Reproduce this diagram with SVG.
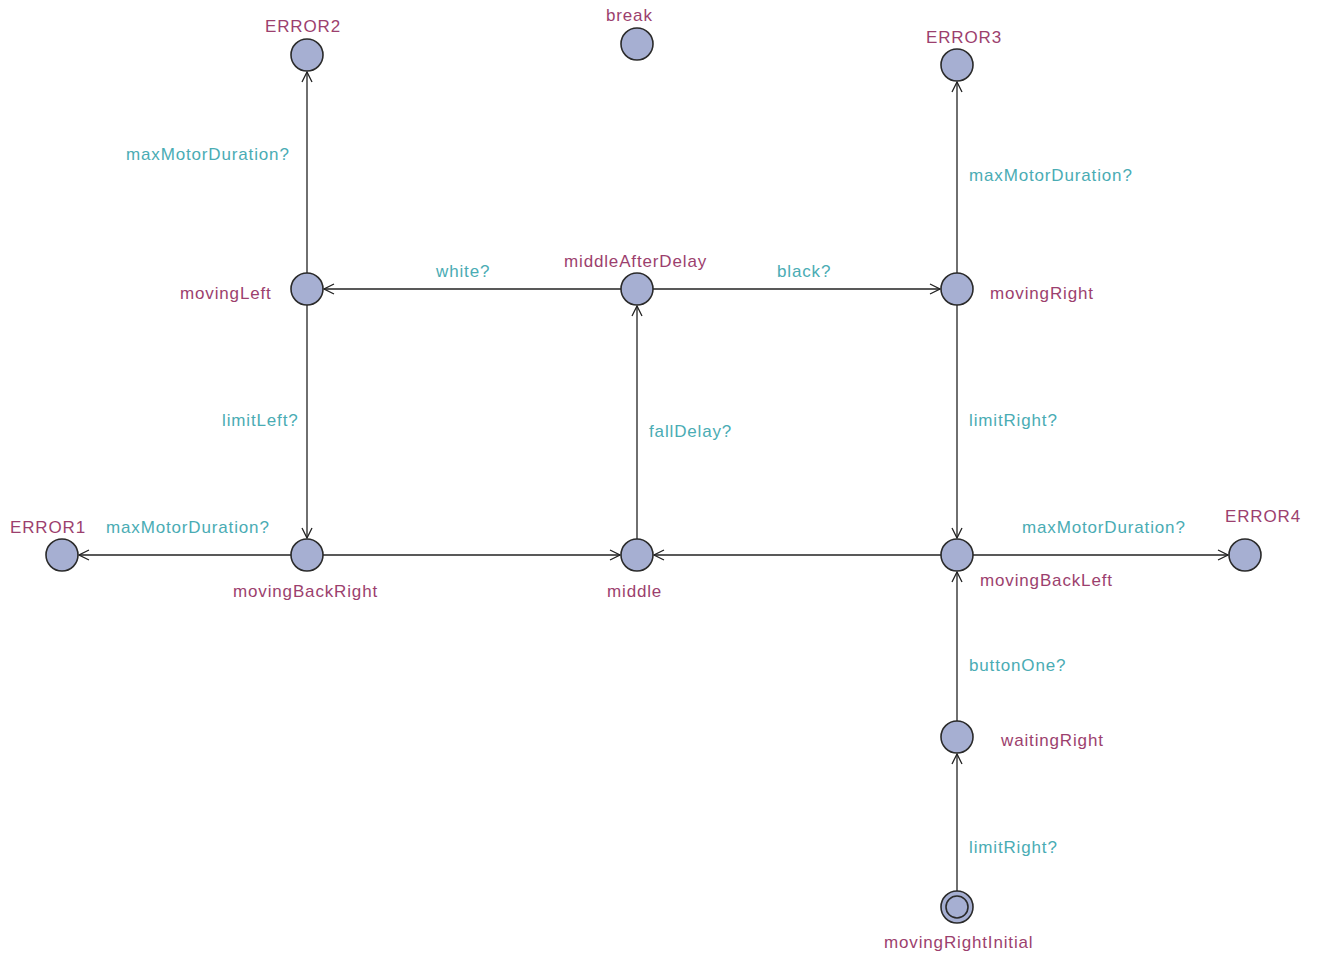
<svg xmlns="http://www.w3.org/2000/svg" width="1320" height="954" viewBox="0 0 1320 954">
<defs>
<marker id="arr" viewBox="0 0 12 12" refX="11" refY="6" markerWidth="12" markerHeight="12" markerUnits="userSpaceOnUse" orient="auto">
<path d="M1,1 L11,6 L1,11" fill="none" stroke="#222" stroke-width="1.3"/>
</marker>
<style>
.loc{fill:#a6afd2;stroke:#2a2a2a;stroke-width:1.6}
.nm{font-family:"Liberation Sans",Arial,sans-serif;font-size:17px;letter-spacing:0.85px;fill:#9c3f6e}
.lb{font-family:"Liberation Sans",Arial,sans-serif;font-size:17px;letter-spacing:0.85px;fill:#4aacb4}
.e{stroke:#222;stroke-width:1.3;fill:none;marker-end:url(#arr)}
</style>
</defs>
<rect width="1320" height="954" fill="#fff"/>
<g id="connectors">
<line class="e" x1="307" y1="273" x2="307" y2="72"/>
<line class="e" x1="957" y1="273" x2="957" y2="82"/>
<line class="e" x1="621" y1="289" x2="324" y2="289"/>
<line class="e" x1="653" y1="289" x2="940" y2="289"/>
<line class="e" x1="307" y1="305" x2="307" y2="538"/>
<line class="e" x1="637" y1="539" x2="637" y2="306"/>
<line class="e" x1="957" y1="305" x2="957" y2="538"/>
<line class="e" x1="291" y1="555" x2="79" y2="555"/>
<line class="e" x1="323" y1="555" x2="620" y2="555"/>
<line class="e" x1="941" y1="555" x2="654" y2="555"/>
<line class="e" x1="973" y1="555" x2="1228" y2="555"/>
<line class="e" x1="957" y1="721" x2="957" y2="572"/>
<line class="e" x1="957" y1="891" x2="957" y2="754"/>
<text class="lb" x="126" y="160">maxMotorDuration?</text>
<text class="lb" x="969" y="181">maxMotorDuration?</text>
<text class="lb" x="436" y="277">white?</text>
<text class="lb" x="777" y="277">black?</text>
<text class="lb" x="222" y="426">limitLeft?</text>
<text class="lb" x="649" y="437">fallDelay?</text>
<text class="lb" x="969" y="426">limitRight?</text>
<text class="lb" x="106" y="533">maxMotorDuration?</text>
<text class="lb" x="1022" y="533">maxMotorDuration?</text>
<text class="lb" x="969" y="671">buttonOne?</text>
<text class="lb" x="969" y="853">limitRight?</text>
</g>
<g id="ERROR2"><circle class="loc" cx="307" cy="55" r="16"/><text class="nm" x="265" y="32">ERROR2</text></g>
<g id="break"><circle class="loc" cx="637" cy="44" r="16"/><text class="nm" x="606" y="21">break</text></g>
<g id="ERROR3"><circle class="loc" cx="957" cy="65" r="16"/><text class="nm" x="926" y="43">ERROR3</text></g>
<g id="movingLeft"><circle class="loc" cx="307" cy="289" r="16"/><text class="nm" x="180" y="299">movingLeft</text></g>
<g id="middleAfterDelay"><circle class="loc" cx="637" cy="289" r="16"/><text class="nm" x="564" y="267">middleAfterDelay</text></g>
<g id="movingRight"><circle class="loc" cx="957" cy="289" r="16"/><text class="nm" x="990" y="299">movingRight</text></g>
<g id="ERROR1"><circle class="loc" cx="62" cy="555" r="16"/><text class="nm" x="10" y="533">ERROR1</text></g>
<g id="movingBackRight"><circle class="loc" cx="307" cy="555" r="16"/><text class="nm" x="233" y="597">movingBackRight</text></g>
<g id="middle"><circle class="loc" cx="637" cy="555" r="16"/><text class="nm" x="607" y="597">middle</text></g>
<g id="movingBackLeft"><circle class="loc" cx="957" cy="555" r="16"/><text class="nm" x="980" y="586">movingBackLeft</text></g>
<g id="ERROR4"><circle class="loc" cx="1245" cy="555" r="16"/><text class="nm" x="1225" y="522">ERROR4</text></g>
<g id="waitingRight"><circle class="loc" cx="957" cy="737" r="16"/><text class="nm" x="1001" y="746">waitingRight</text></g>
<g id="movingRightInitial"><circle class="loc" cx="957" cy="907" r="16"/><circle cx="957" cy="907" r="11" fill="none" stroke="#2a2a2a" stroke-width="1.6"/><text class="nm" x="884" y="948">movingRightInitial</text></g>
</svg>
